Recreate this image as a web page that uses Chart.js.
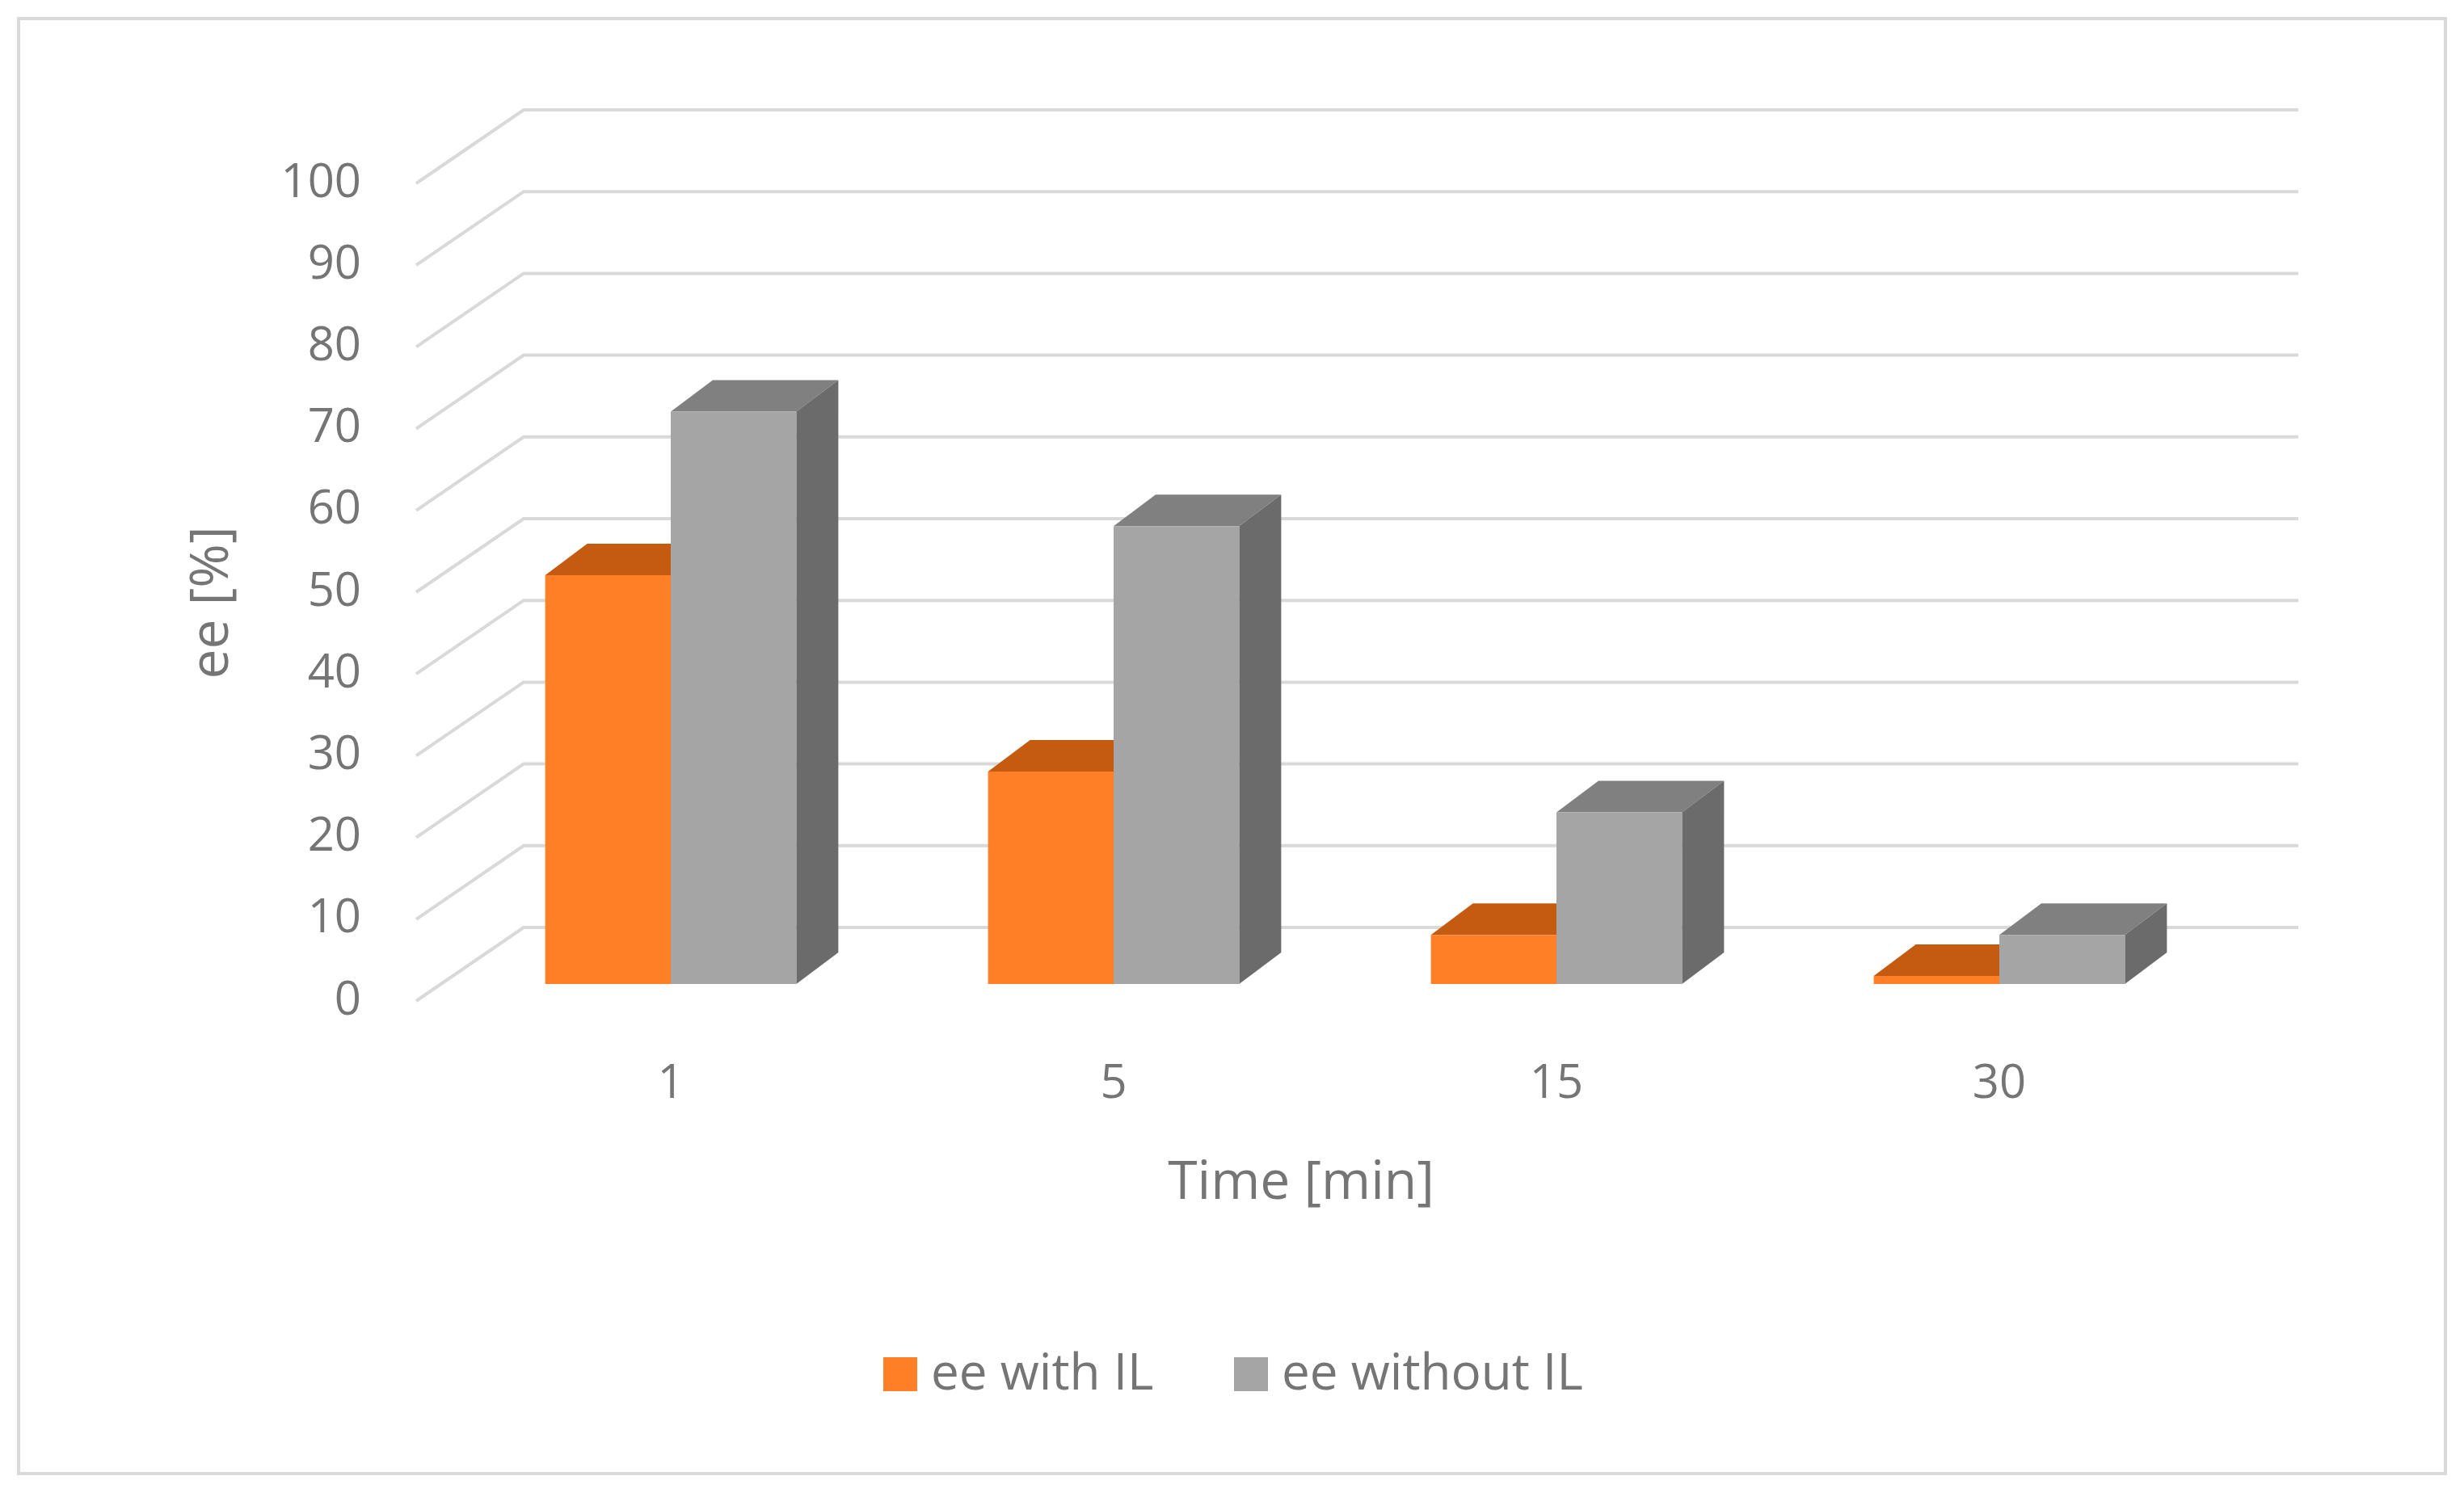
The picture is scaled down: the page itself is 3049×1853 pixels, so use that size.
<!DOCTYPE html>
<html>
<head>
<meta charset="utf-8">
<script src="https://cdn.jsdelivr.net/npm/chart.js@4"></script>
<style>
  html, body { margin: 0; padding: 0; background: #fff; }
</style>
</head>
<body>
<canvas id="eeChart" width="3049" height="1853"></canvas>
<script>
var categories = ['1', '5', '15', '30'];
var eeWithIL = [50, 26, 6, 1];
var eeWithoutIL = [70, 56, 21, 6];
var yTicks = [0, 10, 20, 30, 40, 50, 60, 70, 80, 90, 100];

var font = '"Open Sans", "Noto Sans", sans-serif';
var textColor = '#757575';
var depthX = 52, depthY = -39;

function shade(ctx, pts, color) {
    ctx.beginPath();
    ctx.moveTo(pts[0][0], pts[0][1]);
    for (var i = 1; i < pts.length; i++) ctx.lineTo(pts[i][0], pts[i][1]);
    ctx.closePath();
    ctx.fillStyle = color;
    ctx.fill();
}

var depthPlugin = {
    id: 'depth',
    beforeDraw: function(chart) {
        var ctx = chart.ctx;
        ctx.save();
        ctx.fillStyle = '#fff';
        ctx.fillRect(0, 0, chart.width, chart.height);
        ctx.strokeStyle = '#d9d9d9';
        ctx.lineWidth = 4;
        ctx.strokeRect(23, 23, 3003, 1801);
        ctx.restore();
    },
    beforeDatasetsDraw: function(chart) {
        var ctx = chart.ctx;
        var y = chart.scales.y, x = chart.scales.x;
        ctx.save();
        // back wall grid + floor diagonals
        ctx.strokeStyle = '#d9d9d9';
        ctx.lineWidth = 4;
        yTicks.forEach(function(v) {
            var py = y.getPixelForValue(v);
            ctx.beginPath();
            ctx.moveTo(515, py + 21);
            ctx.lineTo(648, py - 70);
            ctx.lineTo(2844, py - 70);
            ctx.stroke();
        });
        // y tick labels
        ctx.fillStyle = textColor;
        ctx.font = '58px ' + font;
        ctx.textAlign = 'right';
        ctx.textBaseline = 'middle';
        yTicks.forEach(function(v) {
            ctx.fillText(String(v), 447, y.getPixelForValue(v) + 21);
        });
        // x labels
        ctx.textAlign = 'center';
        categories.forEach(function(c, i) {
            ctx.fillText(c, x.getPixelForValue(i), 1342);
        });
        // titles
        ctx.font = '66px ' + font;
        ctx.fillText('Time [min]', 1610, 1465);
        ctx.save();
        ctx.translate(263, 746);
        ctx.rotate(-Math.PI / 2);
        ctx.fillText('ee [%]', 0, 0);
        ctx.restore();
        // legend
        ctx.font = '62px ' + font;
        ctx.textAlign = 'left';
        ctx.fillStyle = '#ff7f27';
        ctx.fillRect(1093, 1680, 42, 42);
        ctx.fillStyle = textColor;
        ctx.fillText('ee with IL', 1152, 1702);
        ctx.fillStyle = '#a5a5a5';
        ctx.fillRect(1527, 1680, 42, 42);
        ctx.fillStyle = textColor;
        ctx.fillText('ee without IL', 1586, 1702);
        // top and side faces
        var tops = ['#c55a11', '#808080'];
        var sides = ['#b85410', '#6b6b6b'];
        for (var i = 0; i < categories.length; i++) {
            for (var d = 0; d < 2; d++) {
                var bar = chart.getDatasetMeta(d).data[i];
                var l = bar.x - bar.width / 2, r = bar.x + bar.width / 2;
                var t = bar.y, b = bar.base;
                shade(ctx, [[l, t], [r, t], [r + depthX, t + depthY], [l + depthX, t + depthY]], tops[d]);
                shade(ctx, [[r, t], [r + depthX, t + depthY], [r + depthX, b + depthY], [r, b]], sides[d]);
            }
        }
        ctx.restore();
    }
};

new Chart(document.getElementById('eeChart'), {
    type: 'bar',
    data: {
        labels: categories,
        datasets: [{
            label: 'ee with IL',
            data: eeWithIL,
            backgroundColor: '#ff7f27',
            categoryPercentage: 0.567,
            barPercentage: 1
        }, {
            label: 'ee without IL',
            data: eeWithoutIL,
            backgroundColor: '#a5a5a5',
            categoryPercentage: 0.567,
            barPercentage: 1
        }]
    },
    plugins: [depthPlugin],
    options: {
        responsive: false,
        animation: false,
        layout: { padding: { top: 206, right: 301, left: 0, bottom: 0 } },
        plugins: { legend: { display: false }, tooltip: { enabled: false } },
        scales: {
            x: {
                grid: { display: false },
                border: { display: false },
                ticks: { display: false },
                afterFit: function(s) { s.height = 635; }
            },
            y: {
                min: 0, max: 100,
                grid: { display: false },
                border: { display: false },
                ticks: { display: false },
                afterFit: function(s) { s.width = 556; }
            }
        }
    }
});
</script>
</body>
</html>
